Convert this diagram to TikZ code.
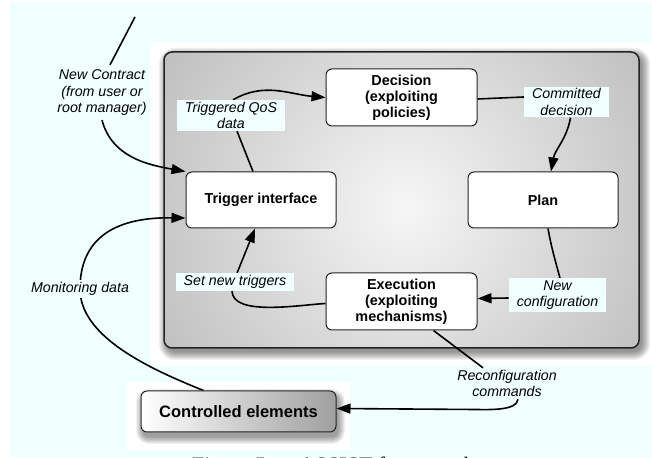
\documentclass[tikz,border=0pt]{standalone}
\usepackage{fontspec}
\setmainfont{Liberation Sans}
\newfontfamily\capfont{Liberation Serif}
\usetikzlibrary{arrows.meta}
\definecolor{azurebg}{RGB}{240,255,255}
\definecolor{panelout}{RGB}{154,154,154}
\definecolor{panelin}{RGB}{246,246,246}
\definecolor{edgec}{RGB}{35,35,35}
\pgfdeclarelayer{back}
\pgfdeclarelayer{mid}
\pgfsetlayers{back,mid,main}
\begin{document}
\begin{tikzpicture}[x=1pt,y=1pt,
  box/.style={draw=edgec, line width=1pt, fill=white, rounded corners=6pt, align=center,
    font=\fontsize{14.4}{16}\selectfont\bfseries, inner sep=0pt},
  lbl/.style={align=center, font=\fontsize{14.2}{16.5}\selectfont\itshape, inner xsep=8pt, inner ysep=2pt},
  flbl/.style={lbl, fill=azurebg},
  conn/.style={line width=1.6pt, draw=black},
  arr/.style={conn, -{Triangle[length=14pt,width=10pt]}},
  shadowpiece/.style={fill=black, fill opacity=0.055}
]
\useasboundingbox (0,0) rectangle (652,457);

\begin{pgfonlayer}{back}
  \fill[azurebg] (10,0) rectangle (652,454);
  \fill[white] (151,92) rectangle (652,414);
  \fill[white] (127,7) rectangle (350,75);
  % soft shadow of the panel
  \foreach \i in {0,...,8} {
    \fill[shadowpiece, rounded corners={8+\i}] ({167-\i},{105-\i}) rectangle ({642+\i},{401+\i});
  }
  \begin{scope}
    \clip[rounded corners=8pt] (164,109) rectangle (639,405);
    \fill[panelout] (164,109) rectangle (639,405);
    \shade[inner color=panelin, outer color=panelout] (405,250) circle (480);
  \end{scope}
  \draw[edgec, line width=1.5pt, rounded corners=8pt] (164,109) rectangle (639,405);
  % soft shadow of the controlled elements box
  \foreach \i in {0,...,7} {
    \fill[shadowpiece, rounded corners={6+\i}] ({143-\i},{20-\i}) rectangle ({338+\i},{61+\i});
  }
\end{pgfonlayer}

% boxes
\node[box, minimum width=150pt, minimum height=56pt] (trig) at (261,257) {Trigger interface};
\node[box, minimum width=151pt, minimum height=57pt] (dec) at (401.5,359.5) {Decision\\(exploiting\\policies)};
\node[box, minimum width=150pt, minimum height=56pt] (plan) at (543,257) {Plan};
\node[box, minimum width=151pt, minimum height=57pt] (ex) at (401.5,155.5) {Execution\\(exploiting\\mechanisms)};
\node[box, minimum width=195pt, minimum height=41pt, left color=white, right color=gray!75,
  font=\fontsize{16.5}{18}\selectfont\bfseries] (ce) at (238.5,45.5) {Controlled elements};

% labels
\node[flbl] (tq) at (231,341.5) {Triggered QoS\\data};
\node[flbl] (cd) at (566.5,355) {Committed\\decision};
\node[flbl] (snt) at (235,175) {Set new triggers};
\node[flbl] (ncfg) at (557.5,162) {New\\configuration};
\node[lbl] (rc) at (507,73.5) {Reconfiguration\\commands};
\node[lbl] (nc) at (102,364) {New Contract\\(from user or\\root manager)};
\coordinate (ctop) at (135,440);
\coordinate (rcb) at (475,47.5);

% caption (cut by the page edge, as in the reference)
\begin{scope}
  \clip (0,0) rectangle (652,457);
  \node[anchor=base west, font=\capfont\fontsize{22}{24}\selectfont, inner sep=0pt] (cap) at (192,-15.5) {Figure 5 — ASSIST framework};
\end{scope}

% connectors
\begin{pgfonlayer}{mid}
  \draw[conn] (ctop) -- ([xshift=8pt,yshift=3pt]nc.north);
  \draw[arr] ([yshift=-2pt]nc.south) to[out=-75,in=170] (trig.north west);
  \draw[conn] ([xshift=-8pt]trig.north) -- ([xshift=6pt]tq.south);
  \draw[arr] ([xshift=2pt]tq.north) to[out=30,in=175] (dec.west);
  \draw[conn] ([yshift=-1.5pt]dec.east) -- ([yshift=5pt]cd.west);
  \draw[arr] ([xshift=4pt]cd.south) to[out=-100,in=80] ([xshift=8pt]plan.north);
  \draw[conn] ([xshift=5pt]plan.south) to[out=-80,in=105] ([xshift=2.5pt]ncfg.north);
  \draw[arr] ([yshift=-3pt]ncfg.west) -- ([yshift=3pt]ex.east);
  \draw[conn] ([yshift=-2pt]ex.west) to[out=183,in=-90,looseness=0.7] ([xshift=-3pt]snt.south);
  \draw[arr] ([xshift=2pt]snt.north) -- ([xshift=-6pt]trig.south);
  \draw[conn] ([xshift=32pt]ex.south) -- ([xshift=-24pt]rc.north);
  \draw[arr] ([xshift=11pt]rc.south) to[out=-95,in=0,looseness=0.7] (rcb) -- ([yshift=3pt]ce.east);
  \draw[arr] ([xshift=-35pt]ce.north) .. controls (150,88) and (80,120) .. (80,168)
     node[lbl, fill=azurebg, inner xsep=1pt, inner ysep=2pt] (md) {Monitoring data}
     .. controls (80,215) and (110,240) .. ([yshift=-18pt]trig.west);
\end{pgfonlayer}
\end{tikzpicture}
\end{document}
